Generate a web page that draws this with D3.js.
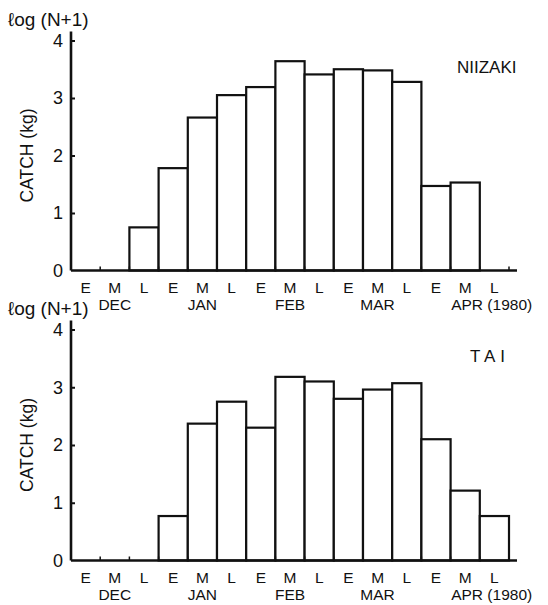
<!DOCTYPE html>
<html><head><meta charset="utf-8">
<script src="https://cdn.jsdelivr.net/npm/d3@7"></script>
<style>body{margin:0;background:#fff}svg{display:block}text{font-family:"Liberation Sans",Arial,sans-serif;fill:#111}</style>
</head><body>
<svg id="c" width="548" height="605"></svg>
<script>
const periods = ["E","M","L","E","M","L","E","M","L","E","M","L","E","M","L"];
const months = ["DEC","JAN","FEB","MAR","APR"];
const yTicks = [0,1,2,3,4];
const niizaki = [0,0,0.75,1.78,2.66,3.05,3.19,3.64,3.41,3.50,3.48,3.28,1.47,1.53,0];
const tai = [0,0,0,0.77,2.37,2.75,2.30,3.18,3.10,2.80,2.96,3.07,2.10,1.21,0.77];
const panels = [
  {name:"NIIZAKI", values:niizaki, y0:270.5, y4:40.5, nameX:457, nameY:73, anchor:"start", spacing:0},
  {name:"TAI", values:tai, y0:560.5, y4:329.5, nameX:490, nameY:362, anchor:"middle", spacing:5}
];
const svg = d3.select("#c");
const idx = d3.range(periods.length);
const x = d3.scaleBand().domain(idx).range([71,509]).padding(0);

panels.forEach(p=>{
  const y = d3.scaleLinear().domain([0,4]).range([p.y0,p.y4]);
  const g = svg.append("g");
  g.selectAll("rect").data(idx.filter(i=>p.values[i]>0)).join("rect")
    .attr("x",i=>x(i)).attr("width",x.bandwidth())
    .attr("y",i=>y(p.values[i])).attr("height",i=>y(0)-y(p.values[i]))
    .attr("fill","#fff").attr("stroke","#111").attr("stroke-width",2.2);
  g.selectAll("line.bt").data(d3.range(1,periods.length+1)).join("line")
    .attr("x1",i=>71+i*x.bandwidth()).attr("x2",i=>71+i*x.bandwidth())
    .attr("y1",y(0)).attr("y2",y(0)-4).attr("stroke","#111").attr("stroke-width",1.5);
  g.append("line").attr("x1",71).attr("x2",517).attr("y1",y(0)).attr("y2",y(0))
    .attr("stroke","#111").attr("stroke-width",2.6);
  g.append("line").attr("x1",71).attr("x2",71).attr("y1",y(0)).attr("y2",y(4)-9)
    .attr("stroke","#111").attr("stroke-width",2.6);
  const ya = g.append("g").attr("transform","translate(71,0)")
    .call(d3.axisLeft(y).tickValues(yTicks).tickFormat(d3.format("d")).tickSize(-4).tickPadding(8));
  ya.select(".domain").remove();
  ya.selectAll(".tick line").attr("stroke","#111").attr("stroke-width",2);
  ya.selectAll(".tick").filter(d=>d===0).select("line").remove();
  ya.selectAll("text").style("font-size","18px").style("font-family","'Liberation Sans',Arial,sans-serif").attr("fill","#111");
  const xa = g.append("g").attr("transform",`translate(0,${y(0)})`)
    .call(d3.axisBottom(x).tickFormat(i=>periods[i]).tickSize(0).tickPadding(11));
  xa.select(".domain").remove();
  xa.selectAll("text").style("font-size","15.5px").style("font-family","'Liberation Sans',Arial,sans-serif").attr("fill","#111");
  months.forEach((m,k)=>{
    const cx = x(k*3+1)+x.bandwidth()/2;
    if(m==="APR"){
      g.append("text").attr("x",cx-14).attr("y",y(0)+39.5).attr("text-anchor","start")
        .style("font-size","15.5px").text("APR (1980)");
    } else {
      g.append("text").attr("x",cx).attr("y",y(0)+39.5).attr("text-anchor","middle")
        .style("font-size","15.5px").text(m);
    }
  });
  g.append("text").attr("x",8).attr("y",y(4)-15).style("font-size","19px").text("ℓog (N+1)");
  g.append("text").attr("transform",`translate(33,${(y(0)+y(4))/2}) rotate(-90)`)
    .attr("text-anchor","middle").style("font-size","17.5px").text("CATCH (kg)");
  g.append("text").attr("x",p.nameX).attr("y",p.nameY).attr("text-anchor",p.anchor)
    .style("font-size","17px").style("letter-spacing",p.spacing+"px").text(p.name);
});
</script>
</body></html>
